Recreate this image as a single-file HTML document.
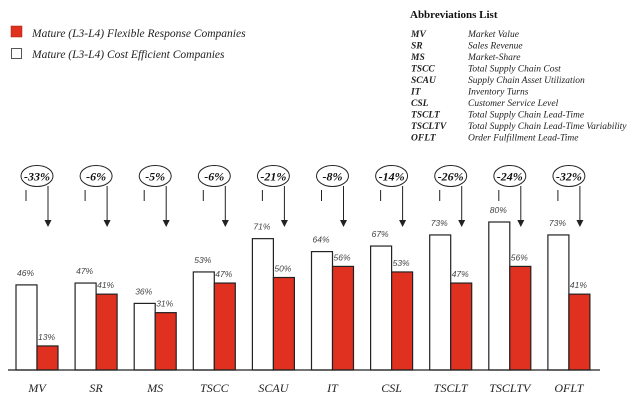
<!DOCTYPE html>
<html><head><meta charset="utf-8"><style>
html,body{margin:0;padding:0;background:#fff;}
svg{display:block;}
.s{font-family:"Liberation Serif",serif;font-style:italic;}
.v{font-family:"Liberation Sans",sans-serif;font-style:italic;font-size:8.5px;fill:#444;}
</style></head><body>
<svg width="640" height="418" viewBox="0 0 640 418" xmlns="http://www.w3.org/2000/svg">
<rect x="11" y="26" width="11" height="11" fill="#e03020" stroke="#a02010" stroke-width="0.5"/>
<text x="32" y="37" class="s" font-size="11.5" fill="#222">Mature (L3-L4) Flexible Response Companies</text>
<rect x="11.5" y="48.5" width="10" height="10" fill="#fff" stroke="#555" stroke-width="1"/>
<text x="32" y="58" class="s" font-size="11.5" fill="#222">Mature (L3-L4) Cost Efficient Companies</text>
<text x="410" y="18" font-family="Liberation Serif,serif" font-weight="bold" font-size="11" fill="#111">Abbreviations List</text>
<g class="s" font-size="9.5" fill="#222">
<text x="411" y="37" font-weight="bold">MV</text><text x="468" y="37">Market Value</text>
<text x="411" y="48.5" font-weight="bold">SR</text><text x="468" y="48.5">Sales Revenue</text>
<text x="411" y="60" font-weight="bold">MS</text><text x="468" y="60">Market-Share</text>
<text x="411" y="71.5" font-weight="bold">TSCC</text><text x="468" y="71.5">Total Supply Chain Cost</text>
<text x="411" y="83" font-weight="bold">SCAU</text><text x="468" y="83">Supply Chain Asset Utilization</text>
<text x="411" y="94.5" font-weight="bold">IT</text><text x="468" y="94.5">Inventory Turns</text>
<text x="411" y="106" font-weight="bold">CSL</text><text x="468" y="106">Customer Service Level</text>
<text x="411" y="117.5" font-weight="bold">TSCLT</text><text x="468" y="117.5">Total Supply Chain Lead-Time</text>
<text x="411" y="129" font-weight="bold">TSCLTV</text><text x="468" y="129">Total Supply Chain Lead-Time Variability</text>
<text x="411" y="140.5" font-weight="bold">OFLT</text><text x="468" y="140.5">Order Fulfillment Lead-Time</text>
</g>
<g id="bars"></g>
<line x1="8" y1="370" x2="600" y2="370" stroke="#222" stroke-width="1.2"/>
</svg>
<script>
var d=[["MV",46,13,"-33%"],["SR",47,41,"-6%"],["MS",36,31,"-5%"],["TSCC",53,47,"-6%"],["SCAU",71,50,"-21%"],["IT",64,56,"-8%"],["CSL",67,53,"-14%"],["TSCLT",73,47,"-26%"],["TSCLTV",80,56,"-24%"],["OFLT",73,41,"-32%"]];
var g=document.getElementById("bars"),h="",k=1.85,B=370,w=21;
d.forEach(function(e,i){
 var x=16+i*59.1,hw=e[1]*k,hr=e[2]*k;
 h+='<rect x="'+x+'" y="'+(B-hw)+'" width="'+w+'" height="'+hw+'" fill="#fff" stroke="#222" stroke-width="1.2"/>';
 h+='<rect x="'+(x+w)+'" y="'+(B-hr)+'" width="'+w+'" height="'+hr+'" fill="#e03020" stroke="#222" stroke-width="1.2"/>';
 h+='<text class="v" x="'+(x+1)+'" y="'+(B-hw-9)+'">'+e[1]+'%</text>';
 h+='<text class="v" x="'+(x+w+1)+'" y="'+(B-hr-6)+'">'+e[2]+'%</text>';
 var cx=x+w,ax=x+w+11;
 h+='<ellipse cx="'+cx+'" cy="176" rx="16" ry="10.5" fill="#fff" stroke="#222" stroke-width="1"/>';
 h+='<text x="'+cx+'" y="180.5" text-anchor="middle" font-family="Liberation Serif,serif" font-weight="bold" font-style="italic" font-size="12" fill="#111">'+e[3]+'</text>';
 h+='<line x1="'+(x+10)+'" y1="190" x2="'+(x+10)+'" y2="201" stroke="#222" stroke-width="1"/>';
 h+='<line x1="'+ax+'" y1="186" x2="'+ax+'" y2="220" stroke="#222" stroke-width="1"/>';
 h+='<polygon points="'+(ax-3.5)+',220 '+(ax+3.5)+',220 '+ax+',227" fill="#222"/>';
 h+='<text class="s" x="'+cx+'" y="392" text-anchor="middle" font-size="12" fill="#222">'+e[0]+'</text>';
});
g.innerHTML=h;
</script>
</body></html>
